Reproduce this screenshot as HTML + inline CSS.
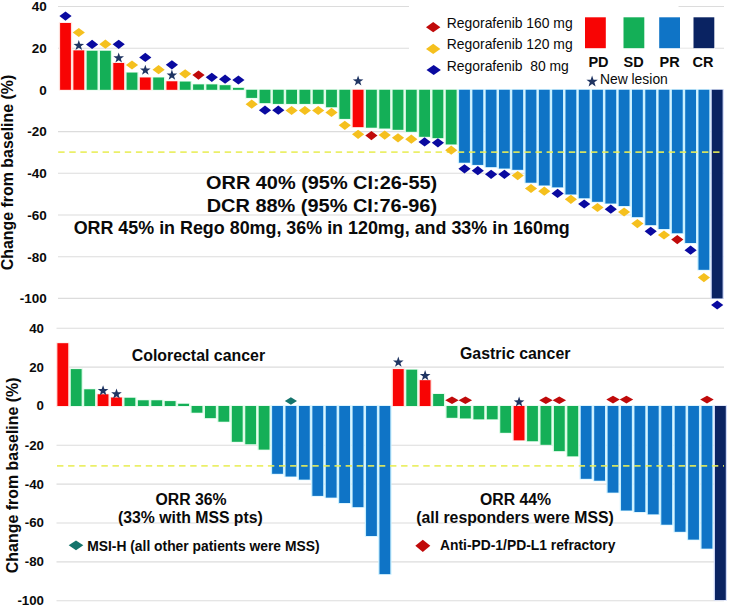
<!DOCTYPE html>
<html><head><meta charset="utf-8"><title>Waterfall plot</title>
<style>html,body{margin:0;padding:0;background:#fff;}body{width:732px;height:606px;position:relative;overflow:hidden;}</style>
</head><body>
<svg width="732" height="606" viewBox="0 0 732 606" style="display:block;position:absolute;left:0;top:0">
<rect x="0" y="0" width="732" height="606" fill="#ffffff"/>
<line x1="58" y1="6.5" x2="724" y2="6.5" stroke="#dcdcdc" stroke-width="1.1"/>
<line x1="58" y1="48.2" x2="724" y2="48.2" stroke="#dcdcdc" stroke-width="1.1"/>
<line x1="58" y1="131.6" x2="724" y2="131.6" stroke="#dcdcdc" stroke-width="1.1"/>
<line x1="58" y1="173.3" x2="724" y2="173.3" stroke="#dcdcdc" stroke-width="1.1"/>
<line x1="58" y1="215" x2="724" y2="215" stroke="#dcdcdc" stroke-width="1.1"/>
<line x1="58" y1="256.7" x2="724" y2="256.7" stroke="#dcdcdc" stroke-width="1.1"/>
<line x1="58" y1="298.4" x2="724" y2="298.4" stroke="#dcdcdc" stroke-width="1.1"/>
<rect x="409" y="0" width="269.5" height="84" fill="#fff"/>
<rect x="678" y="12" width="37" height="40" fill="#fff"/>
<line x1="680" y1="48.2" x2="694" y2="48.2" stroke="#dcdcdc" stroke-width="1" opacity="0.7"/>
<line x1="56.5" y1="328.2" x2="724" y2="328.2" stroke="#dcdcdc" stroke-width="1.1"/>
<line x1="56.5" y1="367.1" x2="724" y2="367.1" stroke="#dcdcdc" stroke-width="1.1"/>
<line x1="56.5" y1="445.2" x2="724" y2="445.2" stroke="#dcdcdc" stroke-width="1.1"/>
<line x1="56.5" y1="484.1" x2="724" y2="484.1" stroke="#dcdcdc" stroke-width="1.1"/>
<line x1="56.5" y1="523.0" x2="724" y2="523.0" stroke="#dcdcdc" stroke-width="1.1"/>
<line x1="56.5" y1="561.9" x2="724" y2="561.9" stroke="#dcdcdc" stroke-width="1.1"/>
<line x1="56.5" y1="600.8" x2="724" y2="600.8" stroke="#dcdcdc" stroke-width="1.1"/>
<rect x="58.85" y="22.40" width="13.30" height="68.00" fill="#ffe0dc"/>
<rect x="72.15" y="49.80" width="13.30" height="40.60" fill="#ffe0dc"/>
<rect x="85.45" y="50.20" width="13.30" height="40.20" fill="#dcfbe6"/>
<rect x="98.75" y="50.20" width="13.30" height="40.20" fill="#dcfbe6"/>
<rect x="112.05" y="62.40" width="13.30" height="28.00" fill="#ffe0dc"/>
<rect x="125.35" y="72.00" width="13.30" height="18.40" fill="#dcfbe6"/>
<rect x="138.65" y="76.90" width="13.30" height="13.50" fill="#ffe0dc"/>
<rect x="151.95" y="76.90" width="13.30" height="13.50" fill="#dcfbe6"/>
<rect x="165.25" y="80.70" width="13.30" height="9.70" fill="#ffe0dc"/>
<rect x="178.55" y="81.00" width="13.30" height="9.40" fill="#dcfbe6"/>
<rect x="191.85" y="83.80" width="13.30" height="6.60" fill="#dcfbe6"/>
<rect x="205.15" y="83.80" width="13.30" height="6.60" fill="#dcfbe6"/>
<rect x="218.45" y="84.60" width="13.30" height="5.80" fill="#dcfbe6"/>
<rect x="231.75" y="87.30" width="13.30" height="3.10" fill="#dcfbe6"/>
<rect x="245.05" y="89.20" width="13.30" height="9.30" fill="#dcfbe6"/>
<rect x="258.35" y="89.20" width="13.30" height="14.50" fill="#dcfbe6"/>
<rect x="271.65" y="89.20" width="13.30" height="15.30" fill="#dcfbe6"/>
<rect x="284.95" y="89.20" width="13.30" height="15.30" fill="#dcfbe6"/>
<rect x="298.25" y="89.20" width="13.30" height="15.30" fill="#dcfbe6"/>
<rect x="311.55" y="89.20" width="13.30" height="15.30" fill="#dcfbe6"/>
<rect x="324.85" y="89.20" width="13.30" height="18.60" fill="#dcfbe6"/>
<rect x="338.15" y="89.20" width="13.30" height="30.30" fill="#dcfbe6"/>
<rect x="351.45" y="89.20" width="13.30" height="38.50" fill="#ffe0dc"/>
<rect x="364.75" y="89.20" width="13.30" height="39.10" fill="#dcfbe6"/>
<rect x="378.05" y="89.20" width="13.30" height="39.90" fill="#dcfbe6"/>
<rect x="391.35" y="89.20" width="13.30" height="41.20" fill="#dcfbe6"/>
<rect x="404.65" y="89.20" width="13.30" height="43.20" fill="#dcfbe6"/>
<rect x="417.95" y="89.20" width="13.30" height="48.20" fill="#dcfbe6"/>
<rect x="431.25" y="89.20" width="13.30" height="49.50" fill="#dcfbe6"/>
<rect x="444.55" y="89.20" width="13.30" height="55.80" fill="#dcfbe6"/>
<rect x="457.85" y="89.20" width="13.30" height="74.10" fill="#c9f0ff"/>
<rect x="471.15" y="89.20" width="13.30" height="76.30" fill="#c9f0ff"/>
<rect x="484.45" y="89.20" width="13.30" height="78.50" fill="#c9f0ff"/>
<rect x="497.75" y="89.20" width="13.30" height="79.90" fill="#c9f0ff"/>
<rect x="511.05" y="89.20" width="13.30" height="81.20" fill="#c9f0ff"/>
<rect x="524.35" y="89.20" width="13.30" height="94.10" fill="#c9f0ff"/>
<rect x="537.65" y="89.20" width="13.30" height="96.80" fill="#c9f0ff"/>
<rect x="550.95" y="89.20" width="13.30" height="98.70" fill="#c9f0ff"/>
<rect x="564.25" y="89.20" width="13.30" height="105.80" fill="#c9f0ff"/>
<rect x="577.55" y="89.20" width="13.30" height="109.60" fill="#c9f0ff"/>
<rect x="590.85" y="89.20" width="13.30" height="113.20" fill="#c9f0ff"/>
<rect x="604.15" y="89.20" width="13.30" height="114.90" fill="#c9f0ff"/>
<rect x="617.45" y="89.20" width="13.30" height="117.40" fill="#c9f0ff"/>
<rect x="630.75" y="89.20" width="13.30" height="128.50" fill="#c9f0ff"/>
<rect x="644.05" y="89.20" width="13.30" height="136.50" fill="#c9f0ff"/>
<rect x="657.35" y="89.20" width="13.30" height="140.40" fill="#c9f0ff"/>
<rect x="670.65" y="89.20" width="13.30" height="144.60" fill="#c9f0ff"/>
<rect x="683.95" y="89.20" width="13.30" height="154.40" fill="#c9f0ff"/>
<rect x="697.25" y="89.20" width="13.30" height="181.20" fill="#c9f0ff"/>
<rect x="710.55" y="89.20" width="13.30" height="209.80" fill="#cfd9f7"/>
<rect x="56.15" y="342.60" width="13.30" height="64.00" fill="#ffe0dc"/>
<rect x="69.57" y="368.50" width="13.30" height="38.10" fill="#dcfbe6"/>
<rect x="82.99" y="388.70" width="13.30" height="17.90" fill="#dcfbe6"/>
<rect x="96.41" y="393.70" width="13.30" height="12.90" fill="#ffe0dc"/>
<rect x="109.83" y="396.90" width="13.30" height="9.70" fill="#ffe0dc"/>
<rect x="123.25" y="397.20" width="13.30" height="9.40" fill="#dcfbe6"/>
<rect x="136.67" y="399.70" width="13.30" height="6.90" fill="#dcfbe6"/>
<rect x="150.09" y="399.70" width="13.30" height="6.90" fill="#dcfbe6"/>
<rect x="163.51" y="400.50" width="13.30" height="6.10" fill="#dcfbe6"/>
<rect x="176.93" y="403.20" width="13.30" height="3.40" fill="#dcfbe6"/>
<rect x="190.35" y="405.40" width="13.30" height="7.90" fill="#dcfbe6"/>
<rect x="203.77" y="405.40" width="13.30" height="13.30" fill="#dcfbe6"/>
<rect x="217.19" y="405.40" width="13.30" height="16.90" fill="#dcfbe6"/>
<rect x="230.61" y="405.40" width="13.30" height="37.00" fill="#dcfbe6"/>
<rect x="244.03" y="405.40" width="13.30" height="39.40" fill="#dcfbe6"/>
<rect x="257.45" y="405.40" width="13.30" height="44.80" fill="#dcfbe6"/>
<rect x="270.87" y="405.40" width="13.30" height="69.00" fill="#c9f0ff"/>
<rect x="284.29" y="405.40" width="13.30" height="71.70" fill="#c9f0ff"/>
<rect x="297.71" y="405.40" width="13.30" height="74.80" fill="#c9f0ff"/>
<rect x="311.13" y="405.40" width="13.30" height="91.10" fill="#c9f0ff"/>
<rect x="324.55" y="405.40" width="13.30" height="92.80" fill="#c9f0ff"/>
<rect x="337.97" y="405.40" width="13.30" height="98.20" fill="#c9f0ff"/>
<rect x="351.39" y="405.40" width="13.30" height="102.30" fill="#c9f0ff"/>
<rect x="364.81" y="405.40" width="13.30" height="131.20" fill="#c9f0ff"/>
<rect x="378.23" y="405.40" width="13.30" height="169.30" fill="#c9f0ff"/>
<rect x="391.65" y="368.50" width="13.30" height="38.10" fill="#ffe0dc"/>
<rect x="405.07" y="369.10" width="13.30" height="37.50" fill="#dcfbe6"/>
<rect x="418.49" y="379.60" width="13.30" height="27.00" fill="#ffe0dc"/>
<rect x="431.91" y="393.40" width="13.30" height="13.20" fill="#dcfbe6"/>
<rect x="445.33" y="405.40" width="13.30" height="13.00" fill="#dcfbe6"/>
<rect x="458.75" y="405.40" width="13.30" height="13.60" fill="#dcfbe6"/>
<rect x="472.17" y="405.40" width="13.30" height="14.50" fill="#dcfbe6"/>
<rect x="485.59" y="405.40" width="13.30" height="14.50" fill="#dcfbe6"/>
<rect x="499.01" y="405.40" width="13.30" height="28.00" fill="#dcfbe6"/>
<rect x="512.43" y="405.40" width="13.30" height="35.50" fill="#ffe0dc"/>
<rect x="525.85" y="405.40" width="13.30" height="36.40" fill="#dcfbe6"/>
<rect x="539.27" y="405.40" width="13.30" height="40.00" fill="#dcfbe6"/>
<rect x="552.69" y="405.40" width="13.30" height="46.30" fill="#dcfbe6"/>
<rect x="566.11" y="405.40" width="13.30" height="51.50" fill="#dcfbe6"/>
<rect x="579.53" y="405.40" width="13.30" height="74.00" fill="#c9f0ff"/>
<rect x="592.95" y="405.40" width="13.30" height="75.90" fill="#c9f0ff"/>
<rect x="606.37" y="405.40" width="13.30" height="87.80" fill="#c9f0ff"/>
<rect x="619.79" y="405.40" width="13.30" height="105.70" fill="#c9f0ff"/>
<rect x="633.21" y="405.40" width="13.30" height="107.20" fill="#c9f0ff"/>
<rect x="646.63" y="405.40" width="13.30" height="109.50" fill="#c9f0ff"/>
<rect x="660.05" y="405.40" width="13.30" height="119.90" fill="#c9f0ff"/>
<rect x="673.47" y="405.40" width="13.30" height="127.00" fill="#c9f0ff"/>
<rect x="686.89" y="405.40" width="13.30" height="134.80" fill="#c9f0ff"/>
<rect x="700.31" y="405.40" width="13.30" height="143.80" fill="#c9f0ff"/>
<rect x="713.73" y="405.40" width="13.30" height="195.20" fill="#cfd9f7"/>
<rect x="60.10" y="23.00" width="10.8" height="66.80" fill="#f80404"/>
<rect x="73.40" y="50.40" width="10.8" height="39.40" fill="#f80404"/>
<rect x="86.70" y="50.80" width="10.8" height="39.00" fill="#14af57"/>
<rect x="100.00" y="50.80" width="10.8" height="39.00" fill="#14af57"/>
<rect x="113.30" y="63.00" width="10.8" height="26.80" fill="#f80404"/>
<rect x="126.60" y="72.60" width="10.8" height="17.20" fill="#14af57"/>
<rect x="139.90" y="77.50" width="10.8" height="12.30" fill="#f80404"/>
<rect x="153.20" y="77.50" width="10.8" height="12.30" fill="#14af57"/>
<rect x="166.50" y="81.30" width="10.8" height="8.50" fill="#f80404"/>
<rect x="179.80" y="81.60" width="10.8" height="8.20" fill="#14af57"/>
<rect x="193.10" y="84.40" width="10.8" height="5.40" fill="#14af57"/>
<rect x="206.40" y="84.40" width="10.8" height="5.40" fill="#14af57"/>
<rect x="219.70" y="85.20" width="10.8" height="4.60" fill="#14af57"/>
<rect x="233.00" y="87.90" width="10.8" height="1.90" fill="#14af57"/>
<rect x="246.30" y="89.80" width="10.8" height="8.10" fill="#14af57"/>
<rect x="259.60" y="89.80" width="10.8" height="13.30" fill="#14af57"/>
<rect x="272.90" y="89.80" width="10.8" height="14.10" fill="#14af57"/>
<rect x="286.20" y="89.80" width="10.8" height="14.10" fill="#14af57"/>
<rect x="299.50" y="89.80" width="10.8" height="14.10" fill="#14af57"/>
<rect x="312.80" y="89.80" width="10.8" height="14.10" fill="#14af57"/>
<rect x="326.10" y="89.80" width="10.8" height="17.40" fill="#14af57"/>
<rect x="339.40" y="89.80" width="10.8" height="29.10" fill="#14af57"/>
<rect x="352.70" y="89.80" width="10.8" height="37.30" fill="#f80404"/>
<rect x="366.00" y="89.80" width="10.8" height="37.90" fill="#14af57"/>
<rect x="379.30" y="89.80" width="10.8" height="38.70" fill="#14af57"/>
<rect x="392.60" y="89.80" width="10.8" height="40.00" fill="#14af57"/>
<rect x="405.90" y="89.80" width="10.8" height="42.00" fill="#14af57"/>
<rect x="419.20" y="89.80" width="10.8" height="47.00" fill="#14af57"/>
<rect x="432.50" y="89.80" width="10.8" height="48.30" fill="#14af57"/>
<rect x="445.80" y="89.80" width="10.8" height="54.60" fill="#14af57"/>
<rect x="459.10" y="89.80" width="10.8" height="72.90" fill="#0f74c6"/>
<rect x="472.40" y="89.80" width="10.8" height="75.10" fill="#0f74c6"/>
<rect x="485.70" y="89.80" width="10.8" height="77.30" fill="#0f74c6"/>
<rect x="499.00" y="89.80" width="10.8" height="78.70" fill="#0f74c6"/>
<rect x="512.30" y="89.80" width="10.8" height="80.00" fill="#0f74c6"/>
<rect x="525.60" y="89.80" width="10.8" height="92.90" fill="#0f74c6"/>
<rect x="538.90" y="89.80" width="10.8" height="95.60" fill="#0f74c6"/>
<rect x="552.20" y="89.80" width="10.8" height="97.50" fill="#0f74c6"/>
<rect x="565.50" y="89.80" width="10.8" height="104.60" fill="#0f74c6"/>
<rect x="578.80" y="89.80" width="10.8" height="108.40" fill="#0f74c6"/>
<rect x="592.10" y="89.80" width="10.8" height="112.00" fill="#0f74c6"/>
<rect x="605.40" y="89.80" width="10.8" height="113.70" fill="#0f74c6"/>
<rect x="618.70" y="89.80" width="10.8" height="116.20" fill="#0f74c6"/>
<rect x="632.00" y="89.80" width="10.8" height="127.30" fill="#0f74c6"/>
<rect x="645.30" y="89.80" width="10.8" height="135.30" fill="#0f74c6"/>
<rect x="658.60" y="89.80" width="10.8" height="139.20" fill="#0f74c6"/>
<rect x="671.90" y="89.80" width="10.8" height="143.40" fill="#0f74c6"/>
<rect x="685.20" y="89.80" width="10.8" height="153.20" fill="#0f74c6"/>
<rect x="698.50" y="89.80" width="10.8" height="180.00" fill="#0f74c6"/>
<rect x="711.80" y="89.80" width="10.8" height="208.60" fill="#0a2362"/>
<rect x="57.40" y="343.20" width="10.8" height="62.80" fill="#f80404"/>
<rect x="70.82" y="369.10" width="10.8" height="36.90" fill="#14af57"/>
<rect x="84.24" y="389.30" width="10.8" height="16.70" fill="#14af57"/>
<rect x="97.66" y="394.30" width="10.8" height="11.70" fill="#f80404"/>
<rect x="111.08" y="397.50" width="10.8" height="8.50" fill="#f80404"/>
<rect x="124.50" y="397.80" width="10.8" height="8.20" fill="#14af57"/>
<rect x="137.92" y="400.30" width="10.8" height="5.70" fill="#14af57"/>
<rect x="151.34" y="400.30" width="10.8" height="5.70" fill="#14af57"/>
<rect x="164.76" y="401.10" width="10.8" height="4.90" fill="#14af57"/>
<rect x="178.18" y="403.80" width="10.8" height="2.20" fill="#14af57"/>
<rect x="191.60" y="406.00" width="10.8" height="6.70" fill="#14af57"/>
<rect x="205.02" y="406.00" width="10.8" height="12.10" fill="#14af57"/>
<rect x="218.44" y="406.00" width="10.8" height="15.70" fill="#14af57"/>
<rect x="231.86" y="406.00" width="10.8" height="35.80" fill="#14af57"/>
<rect x="245.28" y="406.00" width="10.8" height="38.20" fill="#14af57"/>
<rect x="258.70" y="406.00" width="10.8" height="43.60" fill="#14af57"/>
<rect x="272.12" y="406.00" width="10.8" height="67.80" fill="#0f74c6"/>
<rect x="285.54" y="406.00" width="10.8" height="70.50" fill="#0f74c6"/>
<rect x="298.96" y="406.00" width="10.8" height="73.60" fill="#0f74c6"/>
<rect x="312.38" y="406.00" width="10.8" height="89.90" fill="#0f74c6"/>
<rect x="325.80" y="406.00" width="10.8" height="91.60" fill="#0f74c6"/>
<rect x="339.22" y="406.00" width="10.8" height="97.00" fill="#0f74c6"/>
<rect x="352.64" y="406.00" width="10.8" height="101.10" fill="#0f74c6"/>
<rect x="366.06" y="406.00" width="10.8" height="130.00" fill="#0f74c6"/>
<rect x="379.48" y="406.00" width="10.8" height="168.10" fill="#0f74c6"/>
<rect x="392.90" y="369.10" width="10.8" height="36.90" fill="#f80404"/>
<rect x="406.32" y="369.70" width="10.8" height="36.30" fill="#14af57"/>
<rect x="419.74" y="380.20" width="10.8" height="25.80" fill="#f80404"/>
<rect x="433.16" y="394.00" width="10.8" height="12.00" fill="#14af57"/>
<rect x="446.58" y="406.00" width="10.8" height="11.80" fill="#14af57"/>
<rect x="460.00" y="406.00" width="10.8" height="12.40" fill="#14af57"/>
<rect x="473.42" y="406.00" width="10.8" height="13.30" fill="#14af57"/>
<rect x="486.84" y="406.00" width="10.8" height="13.30" fill="#14af57"/>
<rect x="500.26" y="406.00" width="10.8" height="26.80" fill="#14af57"/>
<rect x="513.68" y="406.00" width="10.8" height="34.30" fill="#f80404"/>
<rect x="527.10" y="406.00" width="10.8" height="35.20" fill="#14af57"/>
<rect x="540.52" y="406.00" width="10.8" height="38.80" fill="#14af57"/>
<rect x="553.94" y="406.00" width="10.8" height="45.10" fill="#14af57"/>
<rect x="567.36" y="406.00" width="10.8" height="50.30" fill="#14af57"/>
<rect x="580.78" y="406.00" width="10.8" height="72.80" fill="#0f74c6"/>
<rect x="594.20" y="406.00" width="10.8" height="74.70" fill="#0f74c6"/>
<rect x="607.62" y="406.00" width="10.8" height="86.60" fill="#0f74c6"/>
<rect x="621.04" y="406.00" width="10.8" height="104.50" fill="#0f74c6"/>
<rect x="634.46" y="406.00" width="10.8" height="106.00" fill="#0f74c6"/>
<rect x="647.88" y="406.00" width="10.8" height="108.30" fill="#0f74c6"/>
<rect x="661.30" y="406.00" width="10.8" height="118.70" fill="#0f74c6"/>
<rect x="674.72" y="406.00" width="10.8" height="125.80" fill="#0f74c6"/>
<rect x="688.14" y="406.00" width="10.8" height="133.60" fill="#0f74c6"/>
<rect x="701.56" y="406.00" width="10.8" height="142.60" fill="#0f74c6"/>
<rect x="714.98" y="406.00" width="10.8" height="194.00" fill="#0a2362"/>
<line x1="58.2" y1="152.2" x2="724" y2="152.2" stroke="#e9ee58" stroke-width="1.8" stroke-dasharray="6.4 4.7" opacity="0.9"/>
<line x1="57" y1="465.8" x2="724" y2="465.8" stroke="#e9ee58" stroke-width="1.8" stroke-dasharray="6.4 4.7" opacity="0.9"/>
<polygon points="59.4,16.1 65.5,11.5 71.6,16.1 65.5,20.7" fill="#0a0aa0"/>
<polygon points="72.7,32.5 78.8,27.9 84.9,32.5 78.8,37.1" fill="#f5c01e"/>
<polygon points="78.8,40.0 80.1,43.8 84.1,43.9 80.9,46.3 82.1,50.1 78.8,47.8 75.5,50.1 76.7,46.3 73.5,43.9 77.5,43.8" fill="#1f3462"/>
<polygon points="86.0,44.4 92.1,39.8 98.2,44.4 92.1,49.0" fill="#0a0aa0"/>
<polygon points="99.3,44.2 105.4,39.6 111.5,44.2 105.4,48.8" fill="#f5c01e"/>
<polygon points="112.6,44.3 118.7,39.7 124.8,44.3 118.7,48.9" fill="#0a0aa0"/>
<polygon points="118.7,52.4 120.0,56.2 124.0,56.3 120.8,58.7 122.0,62.5 118.7,60.2 115.4,62.5 116.6,58.7 113.4,56.3 117.4,56.2" fill="#1f3462"/>
<polygon points="125.9,65.0 132.0,60.4 138.1,65.0 132.0,69.6" fill="#f5c01e"/>
<polygon points="139.2,57.4 145.3,52.8 151.4,57.4 145.3,62.0" fill="#0a0aa0"/>
<polygon points="145.3,64.7 146.6,68.5 150.6,68.6 147.4,71.0 148.6,74.8 145.3,72.5 142.0,74.8 143.2,71.0 140.0,68.6 144.0,68.5" fill="#1f3462"/>
<polygon points="152.5,69.7 158.6,65.1 164.7,69.7 158.6,74.3" fill="#f5c01e"/>
<polygon points="165.8,64.8 171.9,60.2 178.0,64.8 171.9,69.4" fill="#0a0aa0"/>
<polygon points="171.9,69.6 173.2,73.4 177.2,73.5 174.0,75.9 175.2,79.7 171.9,77.4 168.6,79.7 169.8,75.9 166.6,73.5 170.6,73.4" fill="#1f3462"/>
<polygon points="179.1,73.8 185.2,69.2 191.3,73.8 185.2,78.4" fill="#f5c01e"/>
<polygon points="192.4,75.1 198.5,70.5 204.6,75.1 198.5,79.7" fill="#c00a0a"/>
<polygon points="205.7,77.3 211.8,72.7 217.9,77.3 211.8,81.9" fill="#0a0aa0"/>
<polygon points="219.0,79.2 225.1,74.6 231.2,79.2 225.1,83.8" fill="#0a0aa0"/>
<polygon points="232.3,80.0 238.4,75.4 244.5,80.0 238.4,84.6" fill="#0a0aa0"/>
<polygon points="245.6,104.2 251.7,99.6 257.8,104.2 251.7,108.8" fill="#f5c01e"/>
<polygon points="258.9,110.2 265.0,105.6 271.1,110.2 265.0,114.8" fill="#0a0aa0"/>
<polygon points="272.2,110.2 278.3,105.6 284.4,110.2 278.3,114.8" fill="#0a0aa0"/>
<polygon points="285.5,110.5 291.6,105.9 297.7,110.5 291.6,115.1" fill="#f5c01e"/>
<polygon points="298.8,110.5 304.9,105.9 311.0,110.5 304.9,115.1" fill="#f5c01e"/>
<polygon points="312.1,110.5 318.2,105.9 324.3,110.5 318.2,115.1" fill="#f5c01e"/>
<polygon points="325.4,112.4 331.5,107.8 337.6,112.4 331.5,117.0" fill="#f5c01e"/>
<polygon points="338.7,125.3 344.8,120.7 350.9,125.3 344.8,129.9" fill="#f5c01e"/>
<polygon points="358.1,75.5 359.4,79.3 363.4,79.4 360.2,81.8 361.4,85.6 358.1,83.3 354.8,85.6 356.0,81.8 352.8,79.4 356.8,79.3" fill="#1f3462"/>
<polygon points="352.0,134.3 358.1,129.7 364.2,134.3 358.1,138.9" fill="#f5c01e"/>
<polygon points="365.3,135.6 371.4,131.0 377.5,135.6 371.4,140.2" fill="#c00a0a"/>
<polygon points="378.6,135.1 384.7,130.5 390.8,135.1 384.7,139.7" fill="#f5c01e"/>
<polygon points="391.9,137.8 398.0,133.2 404.1,137.8 398.0,142.4" fill="#f5c01e"/>
<polygon points="405.2,139.2 411.3,134.6 417.4,139.2 411.3,143.8" fill="#f5c01e"/>
<polygon points="418.5,141.9 424.6,137.3 430.7,141.9 424.6,146.5" fill="#0a0aa0"/>
<polygon points="431.8,142.8 437.9,138.2 444.0,142.8 437.9,147.4" fill="#0a0aa0"/>
<polygon points="445.1,150.2 451.2,145.6 457.3,150.2 451.2,154.8" fill="#f5c01e"/>
<polygon points="458.4,168.8 464.5,164.2 470.6,168.8 464.5,173.4" fill="#0a0aa0"/>
<polygon points="471.7,170.7 477.8,166.1 483.9,170.7 477.8,175.3" fill="#0a0aa0"/>
<polygon points="485.0,174.3 491.1,169.7 497.2,174.3 491.1,178.9" fill="#0a0aa0"/>
<polygon points="498.3,174.3 504.4,169.7 510.5,174.3 504.4,178.9" fill="#0a0aa0"/>
<polygon points="511.6,175.6 517.7,171.0 523.8,175.6 517.7,180.2" fill="#f5c01e"/>
<polygon points="524.9,188.5 531.0,183.9 537.1,188.5 531.0,193.1" fill="#f5c01e"/>
<polygon points="538.2,191.2 544.3,186.6 550.4,191.2 544.3,195.8" fill="#f5c01e"/>
<polygon points="551.5,193.4 557.6,188.8 563.7,193.4 557.6,198.0" fill="#0a0aa0"/>
<polygon points="564.8,199.3 570.9,194.7 577.0,199.3 570.9,203.9" fill="#f5c01e"/>
<polygon points="578.1,204.0 584.2,199.4 590.3,204.0 584.2,208.6" fill="#0a0aa0"/>
<polygon points="591.4,207.5 597.5,202.9 603.6,207.5 597.5,212.1" fill="#f5c01e"/>
<polygon points="604.7,209.2 610.8,204.6 616.9,209.2 610.8,213.8" fill="#0a0aa0"/>
<polygon points="618.0,212.0 624.1,207.4 630.2,212.0 624.1,216.6" fill="#f5c01e"/>
<polygon points="631.3,223.6 637.4,219.0 643.5,223.6 637.4,228.2" fill="#f5c01e"/>
<polygon points="644.6,231.3 650.7,226.7 656.8,231.3 650.7,235.9" fill="#0a0aa0"/>
<polygon points="657.9,235.0 664.0,230.4 670.1,235.0 664.0,239.6" fill="#f5c01e"/>
<polygon points="671.2,239.6 677.3,235.0 683.4,239.6 677.3,244.2" fill="#c00a0a"/>
<polygon points="684.5,250.2 690.6,245.6 696.7,250.2 690.6,254.8" fill="#0a0aa0"/>
<polygon points="697.8,277.6 703.9,273.0 710.0,277.6 703.9,282.2" fill="#f5c01e"/>
<polygon points="711.1,305.0 717.2,300.4 723.3,305.0 717.2,309.6" fill="#0a0aa0"/>
<polygon points="103.1,385.2 104.4,389.0 108.4,389.1 105.2,391.5 106.4,395.3 103.1,393.0 99.8,395.3 100.9,391.5 97.7,389.1 101.7,389.0" fill="#1f3462"/>
<polygon points="116.5,388.4 117.8,392.2 121.8,392.3 118.6,394.7 119.8,398.5 116.5,396.2 113.2,398.5 114.3,394.7 111.2,392.3 115.2,392.2" fill="#1f3462"/>
<polygon points="284.8,401.0 290.9,397.2 297.0,401.0 290.9,404.8" fill="#14746c"/>
<polygon points="398.3,356.6 399.6,360.4 403.6,360.5 400.4,362.9 401.6,366.7 398.3,364.4 395.0,366.7 396.2,362.9 393.0,360.5 397.0,360.4" fill="#1f3462"/>
<polygon points="425.1,370.1 426.5,373.9 430.5,374.0 427.3,376.4 428.4,380.2 425.1,377.9 421.8,380.2 423.0,376.4 419.8,374.0 423.8,373.9" fill="#1f3462"/>
<polygon points="445.2,400.3 452.0,396.5 458.7,400.3 452.0,404.1" fill="#c00a0a"/>
<polygon points="458.6,400.3 465.4,396.5 472.1,400.3 465.4,404.1" fill="#c00a0a"/>
<polygon points="519.1,396.5 520.4,400.3 524.4,400.4 521.2,402.8 522.4,406.6 519.1,404.3 515.8,406.6 516.9,402.8 513.8,400.4 517.8,400.3" fill="#1f3462"/>
<polygon points="539.2,400.3 545.9,396.5 552.7,400.3 545.9,404.1" fill="#c00a0a"/>
<polygon points="552.6,400.3 559.3,396.5 566.1,400.3 559.3,404.1" fill="#c00a0a"/>
<polygon points="606.3,399.6 613.0,395.8 619.8,399.6 613.0,403.4" fill="#c00a0a"/>
<polygon points="619.7,399.6 626.4,395.8 633.2,399.6 626.4,403.4" fill="#c00a0a"/>
<polygon points="700.2,399.6 707.0,395.8 713.7,399.6 707.0,403.4" fill="#c00a0a"/>
<polygon points="426.0,27.2 433.2,22.1 440.4,27.2 433.2,32.3" fill="#c00a0a"/>
<polygon points="426.0,48.9 433.2,43.8 440.4,48.9 433.2,54.0" fill="#f5c01e"/>
<polygon points="426.5,70.0 433.7,64.9 440.9,70.0 433.7,75.1" fill="#0a0aa0"/>
<rect x="585" y="17.3" width="20.8" height="30.9" fill="#f80404"/>
<rect x="623.5" y="17.3" width="20.8" height="30.9" fill="#14af57"/>
<rect x="659.2" y="17.3" width="20.8" height="30.9" fill="#0f74c6"/>
<rect x="693.5" y="17.3" width="20.8" height="30.9" fill="#0a2362"/>
<polygon points="592.1,75.6 593.5,79.7 597.8,79.7 594.4,82.3 595.6,86.5 592.1,84.0 588.6,86.5 589.8,82.3 586.4,79.7 590.7,79.7" fill="#1f3462"/>
<polygon points="68.7,545.3 76.0,540.4 83.3,545.3 76.0,550.2" fill="#14746c"/>
<polygon points="415.3,545.8 422.8,539.7 430.3,545.8 422.8,551.9" fill="#c00a0a"/>
<text x="46.8" y="11.3" font-family="Liberation Sans, Arial, sans-serif" font-size="13.5" font-weight="700" text-anchor="end" fill="#0a0a0a" >40</text>
<text x="46.8" y="53.0" font-family="Liberation Sans, Arial, sans-serif" font-size="13.5" font-weight="700" text-anchor="end" fill="#0a0a0a" >20</text>
<text x="46.8" y="94.7" font-family="Liberation Sans, Arial, sans-serif" font-size="13.5" font-weight="700" text-anchor="end" fill="#0a0a0a" >0</text>
<text x="46.8" y="136.4" font-family="Liberation Sans, Arial, sans-serif" font-size="13.5" font-weight="700" text-anchor="end" fill="#0a0a0a" >-20</text>
<text x="46.8" y="178.10000000000002" font-family="Liberation Sans, Arial, sans-serif" font-size="13.5" font-weight="700" text-anchor="end" fill="#0a0a0a" >-40</text>
<text x="46.8" y="219.8" font-family="Liberation Sans, Arial, sans-serif" font-size="13.5" font-weight="700" text-anchor="end" fill="#0a0a0a" >-60</text>
<text x="46.8" y="261.5" font-family="Liberation Sans, Arial, sans-serif" font-size="13.5" font-weight="700" text-anchor="end" fill="#0a0a0a" >-80</text>
<text x="46.8" y="303.2" font-family="Liberation Sans, Arial, sans-serif" font-size="13.5" font-weight="700" text-anchor="end" fill="#0a0a0a" >-100</text>
<text x="44.0" y="332.59999999999997" font-family="Liberation Sans, Arial, sans-serif" font-size="13.3" font-weight="700" text-anchor="end" fill="#0a0a0a" >40</text>
<text x="44.0" y="371.5" font-family="Liberation Sans, Arial, sans-serif" font-size="13.3" font-weight="700" text-anchor="end" fill="#0a0a0a" >20</text>
<text x="44.0" y="410.4" font-family="Liberation Sans, Arial, sans-serif" font-size="13.3" font-weight="700" text-anchor="end" fill="#0a0a0a" >0</text>
<text x="44.0" y="449.59999999999997" font-family="Liberation Sans, Arial, sans-serif" font-size="13.3" font-weight="700" text-anchor="end" fill="#0a0a0a" >-20</text>
<text x="44.0" y="488.5" font-family="Liberation Sans, Arial, sans-serif" font-size="13.3" font-weight="700" text-anchor="end" fill="#0a0a0a" >-40</text>
<text x="44.0" y="527.4" font-family="Liberation Sans, Arial, sans-serif" font-size="13.3" font-weight="700" text-anchor="end" fill="#0a0a0a" >-60</text>
<text x="44.0" y="566.3" font-family="Liberation Sans, Arial, sans-serif" font-size="13.3" font-weight="700" text-anchor="end" fill="#0a0a0a" >-80</text>
<text x="44.0" y="605.1999999999999" font-family="Liberation Sans, Arial, sans-serif" font-size="13.3" font-weight="700" text-anchor="end" fill="#0a0a0a" >-100</text>
<text x="0" y="0" font-family="Liberation Sans, Arial, sans-serif" font-size="15.95" font-weight="700" text-anchor="middle" fill="#0a0a0a" transform="translate(13.2,172.5) rotate(-90)">Change from baseline (%)</text>
<text x="0" y="0" font-family="Liberation Sans, Arial, sans-serif" font-size="15.95" font-weight="700" text-anchor="middle" fill="#0a0a0a" transform="translate(17.6,475.3) rotate(-90)">Change from baseline (%)</text>
<text x="446.8" y="27.6" font-family="Liberation Sans, Arial, sans-serif" font-size="13.9"  text-anchor="start" fill="#0a0a0a" >Regorafenib 160 mg</text>
<text x="446.8" y="48.9" font-family="Liberation Sans, Arial, sans-serif" font-size="13.9"  text-anchor="start" fill="#0a0a0a" >Regorafenib 120 mg</text>
<text x="446.8" y="71.4" font-family="Liberation Sans, Arial, sans-serif" font-size="13.9"  text-anchor="start" fill="#0a0a0a" xml:space="preserve">Regorafenib  80 mg</text>
<text x="598.5" y="67" font-family="Liberation Sans, Arial, sans-serif" font-size="14.5" font-weight="700" text-anchor="middle" fill="#0a0a0a" >PD</text>
<text x="633.6" y="67" font-family="Liberation Sans, Arial, sans-serif" font-size="14.5" font-weight="700" text-anchor="middle" fill="#0a0a0a" >SD</text>
<text x="669.6" y="67" font-family="Liberation Sans, Arial, sans-serif" font-size="14.5" font-weight="700" text-anchor="middle" fill="#0a0a0a" >PR</text>
<text x="703.1" y="67" font-family="Liberation Sans, Arial, sans-serif" font-size="14.5" font-weight="700" text-anchor="middle" fill="#0a0a0a" >CR</text>
<text x="599.9" y="83.6" font-family="Liberation Sans, Arial, sans-serif" font-size="13.9"  text-anchor="start" fill="#0a0a0a" >New lesion</text>
<text x="321.6" y="189.3" font-family="Liberation Sans, Arial, sans-serif" font-size="19.2" font-weight="700" text-anchor="middle" fill="#0a0a0a"  textLength="231.1" lengthAdjust="spacingAndGlyphs">ORR 40% (95% CI:26-55)</text>
<text x="321.9" y="212.0" font-family="Liberation Sans, Arial, sans-serif" font-size="19.2" font-weight="700" text-anchor="middle" fill="#0a0a0a"  textLength="230.4" lengthAdjust="spacingAndGlyphs">DCR 88% (95% CI:76-96)</text>
<text x="321.7" y="234.4" font-family="Liberation Sans, Arial, sans-serif" font-size="17.9" font-weight="700" text-anchor="middle" fill="#0a0a0a" >ORR 45% in Rego 80mg, 36% in 120mg, and 33% in 160mg</text>
<text x="198.4" y="360.7" font-family="Liberation Sans, Arial, sans-serif" font-size="15.9" font-weight="700" text-anchor="middle" fill="#0a0a0a" >Colorectal cancer</text>
<text x="515.2" y="358.6" font-family="Liberation Sans, Arial, sans-serif" font-size="15.9" font-weight="700" text-anchor="middle" fill="#0a0a0a" >Gastric cancer</text>
<text x="191" y="504.8" font-family="Liberation Sans, Arial, sans-serif" font-size="15.8" font-weight="700" text-anchor="middle" fill="#0a0a0a" >ORR 36%</text>
<text x="190.4" y="523.3" font-family="Liberation Sans, Arial, sans-serif" font-size="15.8" font-weight="700" text-anchor="middle" fill="#0a0a0a" >(33% with MSS pts)</text>
<text x="87.2" y="550.5" font-family="Liberation Sans, Arial, sans-serif" font-size="13.85" font-weight="700" text-anchor="start" fill="#0a0a0a" >MSI-H (all other patients were MSS)</text>
<text x="515.6" y="504.8" font-family="Liberation Sans, Arial, sans-serif" font-size="15.8" font-weight="700" text-anchor="middle" fill="#0a0a0a" >ORR 44%</text>
<text x="515" y="523.3" font-family="Liberation Sans, Arial, sans-serif" font-size="15.8" font-weight="700" text-anchor="middle" fill="#0a0a0a" >(all responders were MSS)</text>
<text x="440" y="550.3" font-family="Liberation Sans, Arial, sans-serif" font-size="13.85" font-weight="700" text-anchor="start" fill="#0a0a0a" >Anti-PD-1/PD-L1 refractory</text>
</svg>
</body></html>
